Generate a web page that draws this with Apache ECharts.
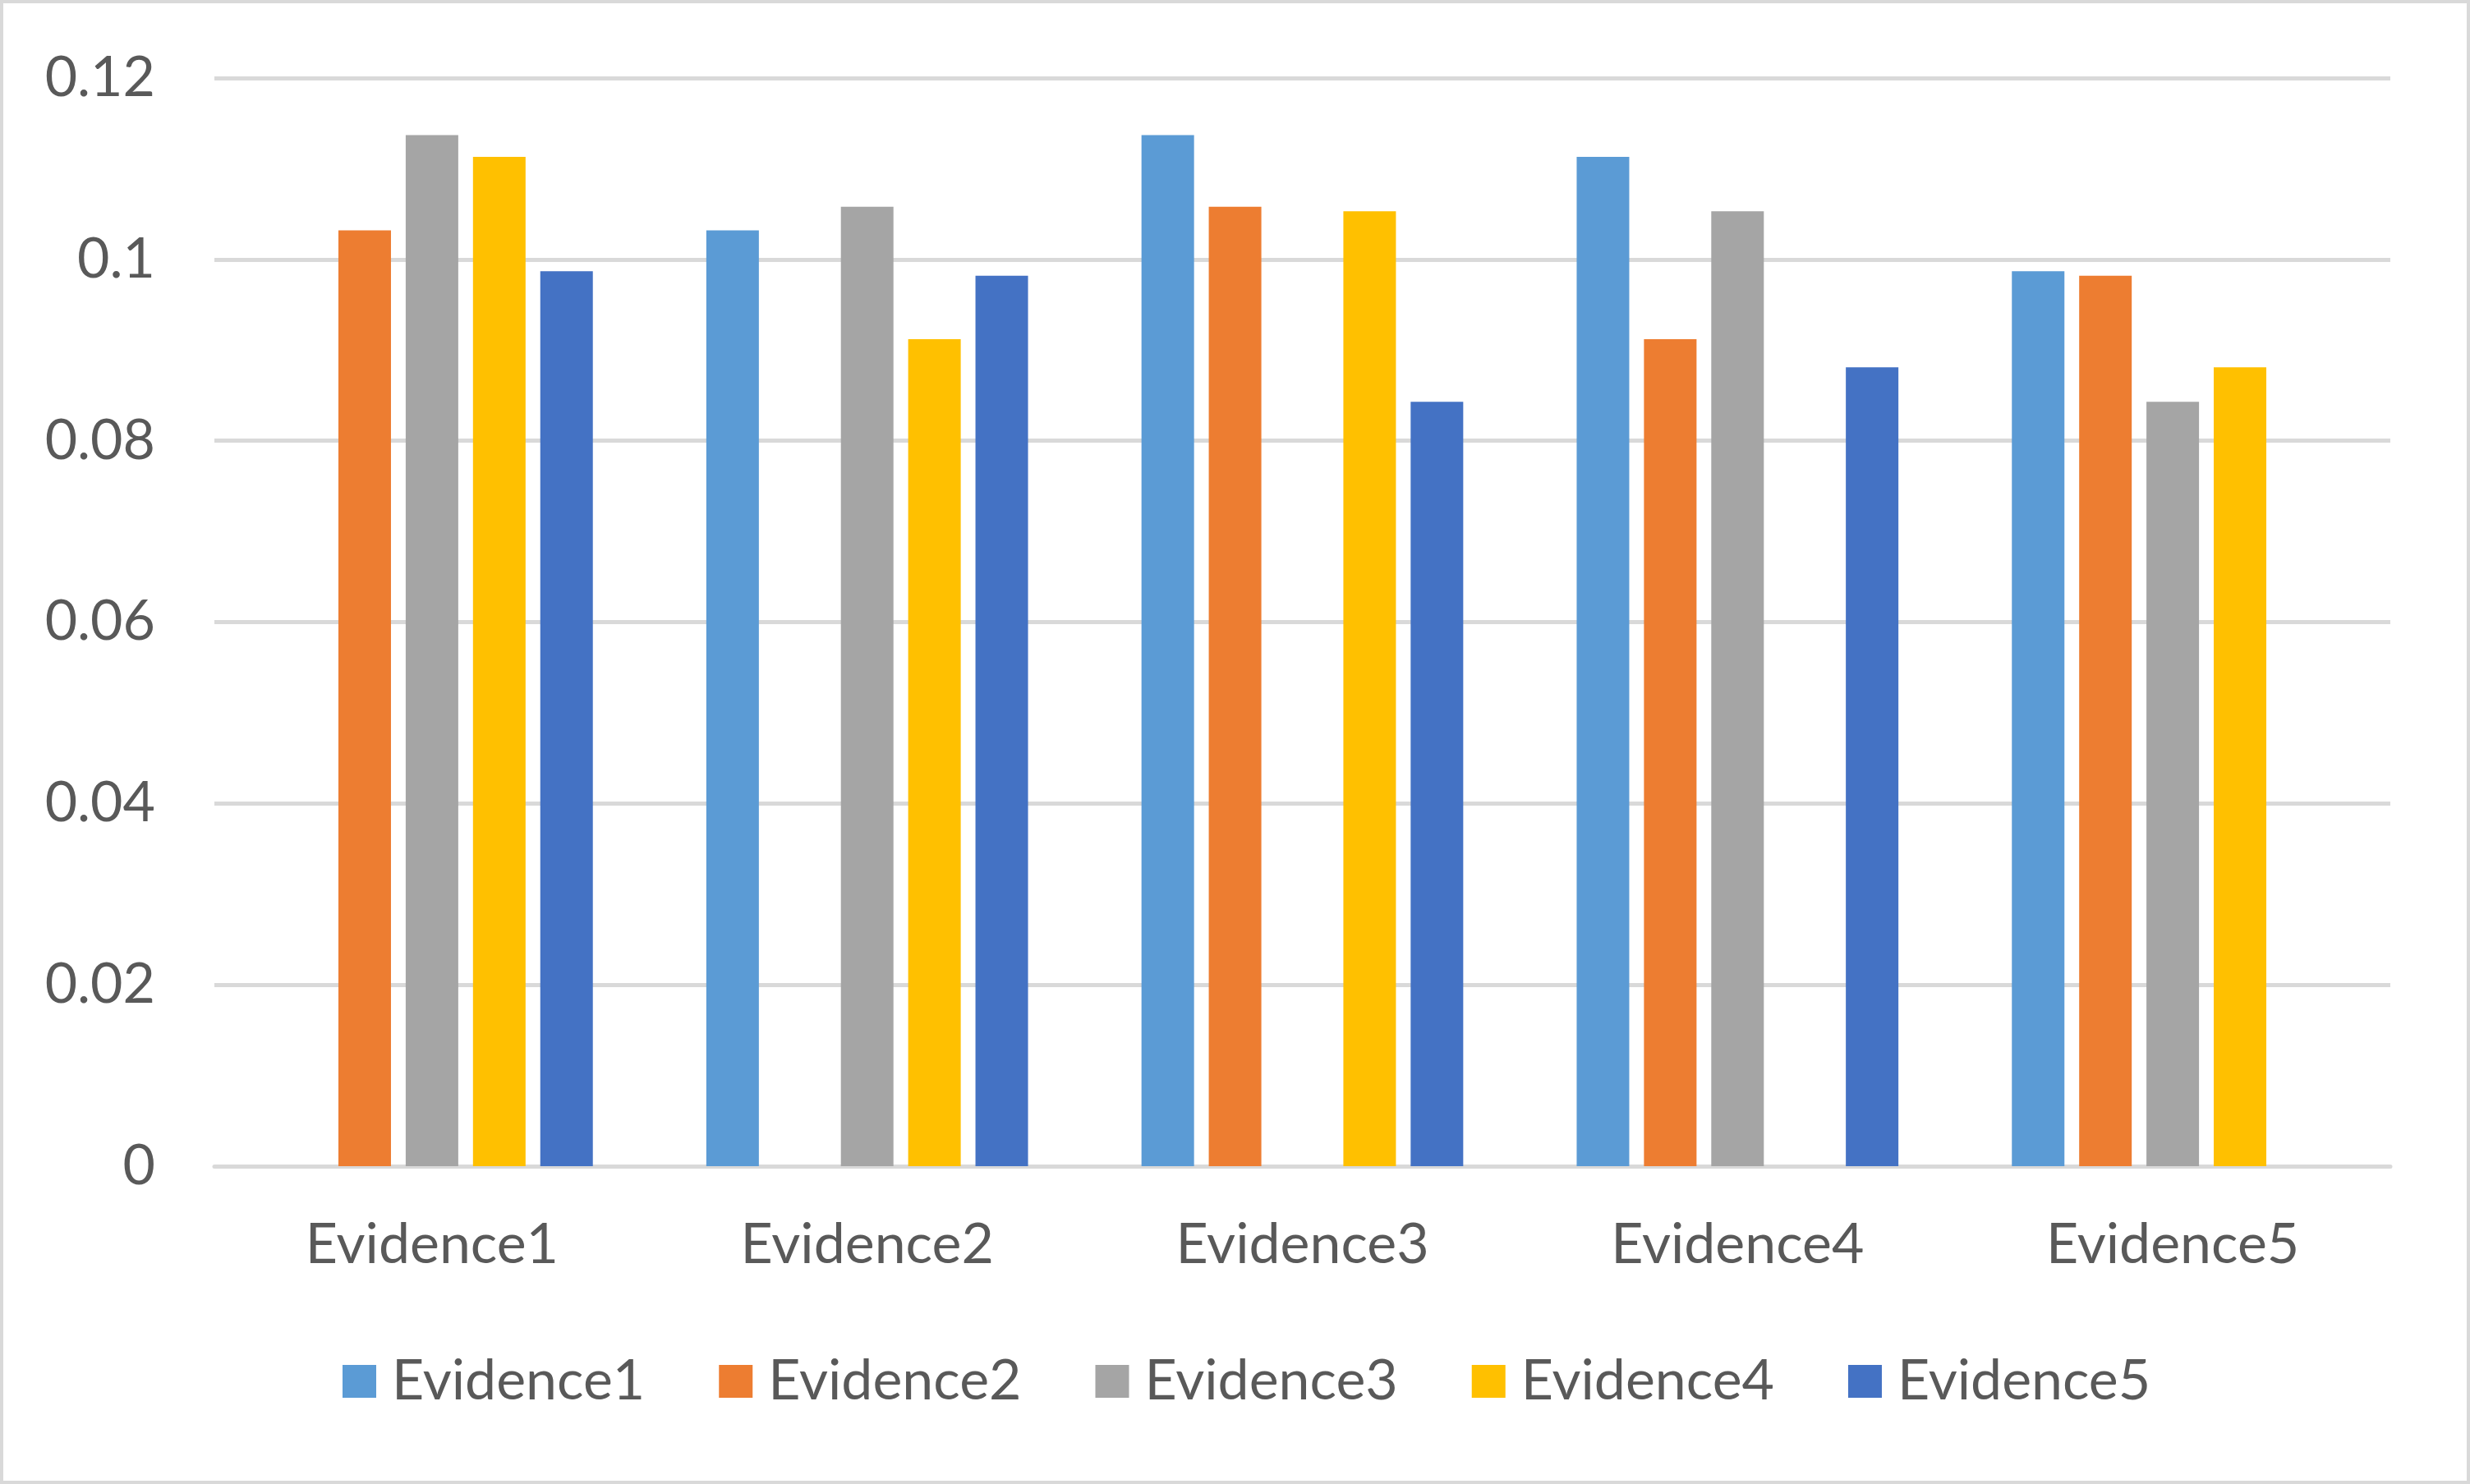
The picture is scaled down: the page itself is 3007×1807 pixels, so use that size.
<!DOCTYPE html>
<html>
<head>
<meta charset="utf-8" />
<title>Evidence</title>
<script src="https://cdn.jsdelivr.net/npm/echarts@6/dist/echarts.min.js"></script>
<style>
  html, body { margin: 0; padding: 0; background: #fff; }
  #main { width: 3007px; height: 1807px; box-sizing: border-box; border: 4px solid #d9d9d9; }
</style>
</head>
<body>
<div id="main"></div>
<script>
  // categories and series names
  var categories = ['Evidence1', 'Evidence2', 'Evidence3', 'Evidence4', 'Evidence5'];
  var seriesNames = ['Evidence1', 'Evidence2', 'Evidence3', 'Evidence4', 'Evidence5'];
  var colors = ['#5B9BD5', '#ED7D31', '#A5A5A5', '#FFC000', '#4472C4'];

  // values (no bar where a series meets its own category)
  var evidence1 = [null, 0.1032, 0.1137, 0.1113, 0.0987];
  var evidence2 = [0.1032, null, 0.1058, 0.0912, 0.0982];
  var evidence3 = [0.1137, 0.1058, null, 0.1053, 0.0843];
  var evidence4 = [0.1113, 0.0912, 0.1053, null, 0.0881];
  var evidence5 = [0.0987, 0.0982, 0.0843, 0.0881, null];
  var allValues = [evidence1, evidence2, evidence3, evidence4, evidence5];

  var font = 'Lato';
  var textColor = '#595959';
  var fontSize = 68;

  var chart = echarts.init(document.getElementById('main'));

  var series = [];
  for (var i = 0; i < seriesNames.length; i++) {
    series.push({
      name: seriesNames[i],
      type: 'bar',
      data: allValues[i],
      barWidth: 64,
      barGap: '28%',
      itemStyle: { color: colors[i] }
    });
  }

  chart.setOption({
    backgroundColor: '#fff',
    animation: false,
    color: colors,
    grid: {
      left: 257,
      right: 93,
      top: 91,
      bottom: 383
    },
    legend: {
      data: seriesNames,
      left: 408,
      top: 1639,
      icon: 'rect',
      itemWidth: 41,
      itemHeight: 40,
      itemGap: 90,
      textStyle: {
        color: textColor,
        fontSize: fontSize,
        fontFamily: font,
        padding: [0, 0, 0, 14]
      }
    },
    xAxis: {
      type: 'category',
      data: categories,
      axisLine: { show: true, lineStyle: { color: '#d9d9d9', width: 5 } },
      axisTick: { show: false },
      axisLabel: {
        color: textColor,
        fontSize: fontSize,
        fontFamily: font,
        margin: 62
      }
    },
    yAxis: {
      type: 'value',
      min: 0,
      max: 0.12,
      interval: 0.02,
      axisLine: { show: false },
      axisTick: { show: false },
      splitLine: { lineStyle: { color: '#d9d9d9', width: 5 } },
      axisLabel: {
        color: textColor,
        fontSize: fontSize,
        fontFamily: font,
        margin: 72
      }
    },
    series: series
  });

  window.onresize = function() {
    chart.resize();
  };
</script>
</body>
</html>
